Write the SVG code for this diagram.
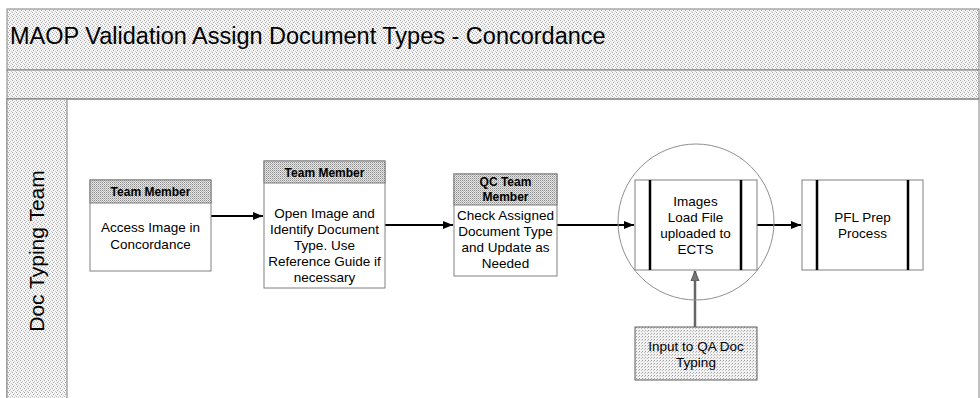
<svg xmlns="http://www.w3.org/2000/svg" width="980" height="398" viewBox="0 0 980 398">
<defs>
<pattern id="bandPat" width="4" height="4" patternUnits="userSpaceOnUse">
<rect width="4" height="4" fill="#f6f6f6"/>
<rect x="0" y="0" width="1" height="1" fill="#a8a8a8"/>
<rect x="2" y="1" width="1" height="1" fill="#c4c4c4"/>
<rect x="1" y="2" width="1" height="1" fill="#a8a8a8"/>
<rect x="3" y="3" width="1" height="1" fill="#c4c4c4"/>
</pattern>
<pattern id="hdrPat" width="2" height="2" patternUnits="userSpaceOnUse">
<rect width="2" height="2" fill="#e6e6e6"/>
<rect x="0" y="0" width="1" height="1" fill="#8c8c8c"/>
<rect x="1" y="1" width="1" height="1" fill="#b8b8b8"/>
</pattern>
<pattern id="inPat" width="3" height="3" patternUnits="userSpaceOnUse">
<rect width="3" height="3" fill="#f2f2f2"/>
<rect x="0" y="0" width="1" height="1" fill="#a0a0a0"/>
<rect x="2" y="1" width="1" height="1" fill="#c0c0c0"/>
</pattern>
<marker id="arr" viewBox="0 0 10 10" refX="10" refY="5" markerWidth="5" markerHeight="5" orient="auto" markerUnits="strokeWidth">
<path d="M0,1 L10,5 L0,9 z" fill="#000"/>
</marker>
<marker id="arrG" viewBox="0 0 10 10" refX="10" refY="5" markerWidth="4" markerHeight="4" orient="auto" markerUnits="strokeWidth">
<path d="M0,1 L10,5 L0,9 z" fill="#777" stroke="#555" stroke-width="1"/>
</marker>
<style>
.frame{fill:none;stroke:#808080;stroke-width:1}
.band{fill:url(#bandPat);stroke:#808080;stroke-width:1}
.box{fill:#fff;stroke:#808080;stroke-width:1}
.hdr{fill:url(#hdrPat);stroke:#808080;stroke-width:1}
.bar{stroke:#000;stroke-width:2.5}
.t{font-family:"Liberation Sans",Arial,sans-serif;font-size:13.5px;fill:#000;text-anchor:middle}
.h{font-family:"Liberation Sans",Arial,sans-serif;font-size:12px;font-weight:bold;fill:#000;text-anchor:middle}
.con{fill:none;stroke:#000;stroke-width:2;marker-end:url(#arr)}
</style>
</defs>
<rect width="980" height="398" fill="#fff"/>
<g id="pool">
<rect x="7" y="9" width="972" height="61" class="band"/>
<rect x="7" y="70" width="972" height="29" class="band"/>
<rect x="7" y="99" width="972" height="300" class="frame"/>
<text x="10" y="44" style="font-family:'Liberation Sans',Arial,sans-serif;font-size:23.5px;fill:#000">MAOP Validation Assign Document Types - Concordance</text>
</g>
<g id="lane">
<rect x="7" y="99" width="60" height="300" class="band"/>
<text transform="translate(44,251) rotate(-90)" style="font-family:'Liberation Sans',Arial,sans-serif;font-size:21px;fill:#000;text-anchor:middle">Doc Typing Team</text>
</g>
<g id="connectors">
<line class="con" x1="211" y1="216" x2="263" y2="216"/>
<line class="con" x1="385" y1="225" x2="453" y2="225"/>
<line class="con" x1="557" y1="225" x2="634" y2="225"/>
<line class="con" x1="757" y1="225" x2="801" y2="225"/>
<line x1="695" y1="327" x2="695" y2="271" fill="none" stroke="#666" stroke-width="2.5" marker-end="url(#arrG)"/>
</g>
<g id="n1">
<rect class="box" x="90" y="180" width="121" height="91"/>
<rect class="hdr" x="90" y="180" width="121" height="23"/>
<text class="h" x="150.5" y="196">Team Member</text>
<text class="t" x="150.5" y="232">Access Image in</text>
<text class="t" x="150.5" y="249">Concordance</text>
</g>
<g id="n2">
<rect class="box" x="264" y="161" width="121" height="127"/>
<rect class="hdr" x="264" y="161" width="121" height="22"/>
<text class="h" x="324.5" y="177">Team Member</text>
<text class="t" x="324.5" y="218">Open Image and</text>
<text class="t" x="324.5" y="234">Identify Document</text>
<text class="t" x="324.5" y="250">Type.  Use</text>
<text class="t" x="324.5" y="266">Reference Guide if</text>
<text class="t" x="324.5" y="282">necessary</text>
</g>
<g id="n3">
<rect class="box" x="454" y="174" width="103" height="102"/>
<rect class="hdr" x="454" y="174" width="103" height="31"/>
<text class="h" x="505.5" y="186">QC Team</text>
<text class="h" x="505.5" y="201">Member</text>
<text class="t" x="505.5" y="220">Check Assigned</text>
<text class="t" x="505.5" y="236">Document Type</text>
<text class="t" x="505.5" y="252">and Update as</text>
<text class="t" x="505.5" y="268">Needed</text>
</g>
<g id="n4">
<circle cx="696" cy="222" r="78" fill="none" stroke="#909090" stroke-width="1"/>
<rect class="box" x="635" y="180" width="122" height="90"/>
<line class="bar" x1="650" y1="180" x2="650" y2="270"/>
<line class="bar" x1="741" y1="180" x2="741" y2="270"/>
<text class="t" x="695.5" y="206">Images</text>
<text class="t" x="695.5" y="222">Load File</text>
<text class="t" x="695.5" y="238">uploaded to</text>
<text class="t" x="695.5" y="254">ECTS</text>
</g>
<g id="n5">
<rect class="box" x="802" y="180" width="121" height="90"/>
<line class="bar" x1="817" y1="180" x2="817" y2="270"/>
<line class="bar" x1="908" y1="180" x2="908" y2="270"/>
<text class="t" x="862.5" y="222">PFL Prep</text>
<text class="t" x="862.5" y="238">Process</text>
</g>
<g id="n6">
<rect x="635" y="327" width="122" height="53" fill="url(#inPat)" stroke="#606060" stroke-width="1"/>
<text class="t" x="696" y="351">Input to QA Doc</text>
<text class="t" x="696" y="367">Typing</text>
</g>
</svg>
